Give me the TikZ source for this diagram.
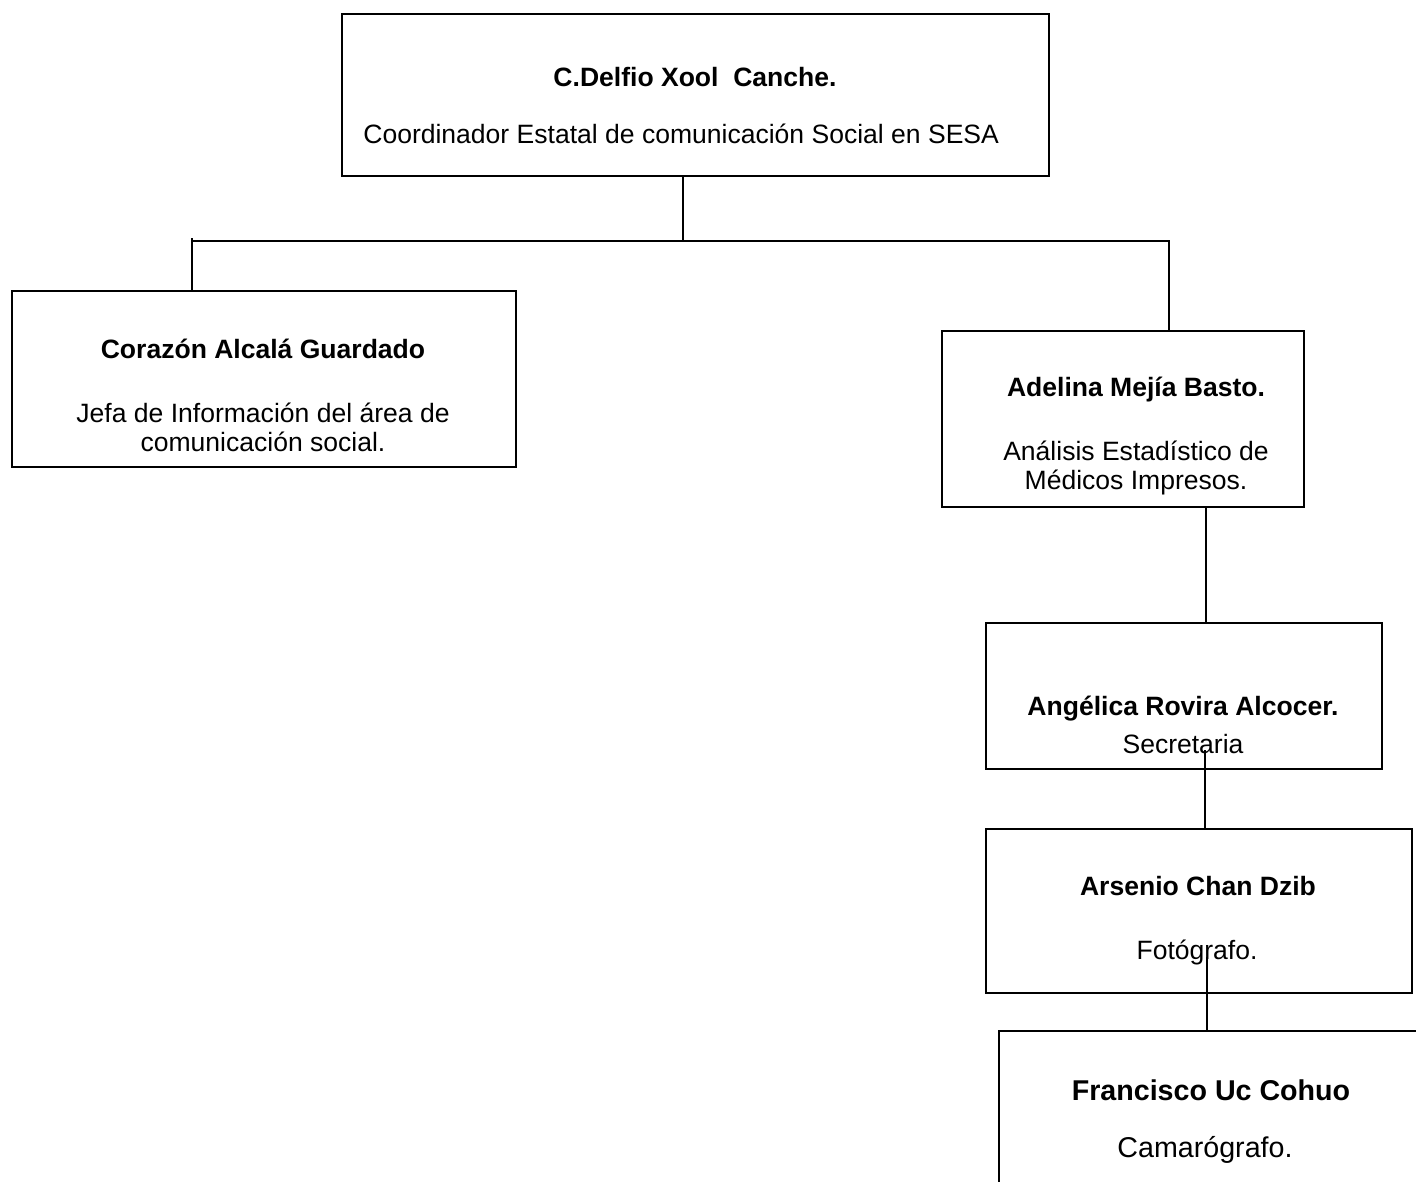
\documentclass[tikz,border=0pt]{standalone}
\usepackage{fontspec}
\setmainfont{Liberation Sans}
\begin{document}
\begin{tikzpicture}[x=0.02cm,y=-0.02cm,
  box/.style={draw=black,line width=1.1pt,fill=none,inner sep=0pt,anchor=north west},
  conn/.style={draw=black,line width=0.9pt},
  nm/.style={font=\fontsize{15.1}{18}\selectfont\bfseries,inner sep=0pt,anchor=base},
  tx/.style={font=\fontsize{15.1}{18}\selectfont,inner sep=0pt,anchor=base},
  nmb/.style={font=\fontsize{16.3}{19}\selectfont\bfseries,inner sep=0pt,anchor=base},
  txb/.style={font=\fontsize{16.3}{19}\selectfont,inner sep=0pt,anchor=base}]
\useasboundingbox (0,0) rectangle (1416,1181);
\clip (0,0) rectangle (1416,1181);
% boxes
\node[box,minimum width=14.14cm,minimum height=3.24cm] (top) at (341,13) {};
\node[box,minimum width=10.08cm,minimum height=3.52cm] (left) at (11,290) {};
\node[box,minimum width=7.24cm,minimum height=3.52cm] (adel) at (941,330) {};
\node[box,minimum width=7.92cm,minimum height=2.92cm] (ang) at (985,622) {};
\node[box,minimum width=8.52cm,minimum height=3.28cm] (ars) at (985,828) {};
\node[box,minimum width=9.0cm,minimum height=3.8cm] (fran) at (998,1030) {};
% texts
\node[nm] (t1) at (695,86) {C.Delfio Xool\ \ Canche.};
\node[tx,anchor=base west] (t2) at (363,143) {Coordinador Estatal de comunicación Social en SESA};
\node[nm] (l1) at (263,358) {Corazón Alcalá Guardado};
\node[tx] (l2) at (263,422) {Jefa de Información del área de};
\node[tx] (l3) at (263,451) {comunicación social.};
\node[nm] (a1) at (1136,396) {Adelina Mejía Basto.};
\node[tx] (a2) at (1136,460) {Análisis Estadístico de};
\node[tx] (a3) at (1136,489) {Médicos Impresos.};
\node[nm] (g1) at (1183,715) {Angélica Rovira Alcocer.};
\node[tx] (g2) at (1183,753) {Secretaria};
\node[nm] (r1) at (1198,895) {Arsenio Chan Dzib};
\node[tx] (r2) at (1197,959) {Fotógrafo.};
\node[nmb] (f1) at (1211,1100) {Francisco Uc Cohuo};
\node[txb] (f2) at (1205,1157) {Camarógrafo.};
% connectors
\coordinate (hl) at (192,241);
\coordinate (hr) at (1169,241);
\coordinate (cx) at (683,0);
\coordinate (c1) at (1206,0);
\coordinate (s2) at (1205,750);
\coordinate (s3) at (1207,957);
\draw[conn] (cx |- top.south) -- (cx |- hl);
\draw[conn] (hl) ++(0,-3) -- (hl |- left.north);
\draw[conn] (hl) -- (hr) -- (hr |- adel.north);
\draw[conn] (c1 |- adel.south) -- (c1 |- ang.north);
\draw[conn] (s2) -- (s2 |- ars.north);
\draw[conn] (s3) -- (s3 |- fran.north);
\end{tikzpicture}
\end{document}
